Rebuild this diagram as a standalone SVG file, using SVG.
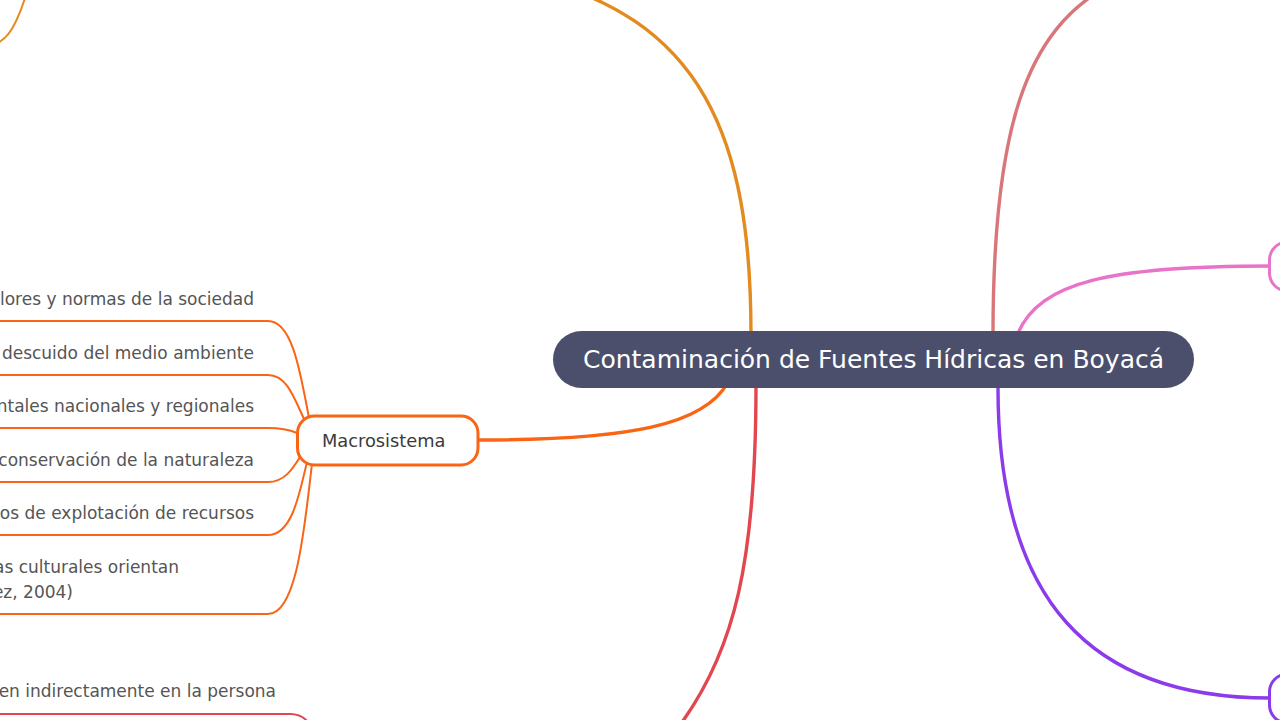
<svg xmlns="http://www.w3.org/2000/svg" width="1280" height="720" viewBox="0 0 1280 720">
<style>
.main{fill:none;stroke-width:3.4;stroke-linecap:round}
.sub{fill:none;stroke-width:2}
.lbl{font-family:"DejaVu Sans","Liberation Sans",sans-serif;font-size:17px;fill:#555555}
</style>
<rect width="1280" height="720" fill="#ffffff"/>
<g id="connectors">
<path class="main" stroke="#e38b1f" d="M751,335 C751,140 705,15 520,-25"/>
<path class="sub" stroke="#e38b1f" d="M-20,47 C5,47 15,30 26,-5"/>
<path class="main" stroke="#e2464f" d="M756,385 C756,560 735,650 680,725"/>
<path class="main" stroke="#f96514" d="M728,382 C705,425 630,440 478,440"/>
<path class="main" stroke="#d9767a" d="M993,335 C993,130 1025,30 1110,-15"/>
<path class="main" stroke="#e874c9" d="M1018,333 C1040,282 1110,266 1270,266"/>
<path class="main" stroke="#8b3bea" d="M998,388 C998,600 1090,698 1270,698"/>
<g stroke="#f96514">
<path class="sub" d="M0,321 H268 C292,321 300,370 309,418"/>
<path class="sub" d="M0,375 H268 C286,375 293,395 304,419"/>
<path class="sub" d="M0,428 H268 C282,428 290,430 297,433"/>
<path class="sub" d="M0,482 H268 C284,482 292,470 300,457"/>
<path class="sub" d="M0,535 H268 C293,535 300,490 307,462"/>
<path class="sub" d="M0,614 H268 C298,614 305,520 312,464"/>
</g>
<path class="sub" stroke="#e2464f" d="M0,714 H290 C298,714 303,716 308,722"/>
</g>
<g id="n-root">
<rect x="553" y="331" width="641" height="57" rx="28.5" fill="#4b4f6b"/>
<text x="873.5" y="368" text-anchor="middle" font-family="DejaVu Sans, Liberation Sans, sans-serif" font-size="25" fill="#ffffff">Contaminación de Fuentes Hídricas en Boyacá</text>
</g>
<g id="n-macro">
<rect x="297.5" y="416" width="180.5" height="49" rx="17" fill="#ffffff" stroke="#f96514" stroke-width="3"/>
<text x="322" y="447" font-family="DejaVu Sans, Liberation Sans, sans-serif" font-size="17.8" fill="#3b3b3b">Macrosistema</text>
</g>
<g id="n-c1"><text class="lbl" x="254" y="305" text-anchor="end">lores y normas de la sociedad</text></g>
<g id="n-c2"><text class="lbl" x="254" y="359" text-anchor="end">descuido del medio ambiente</text></g>
<g id="n-c3"><text class="lbl" x="254" y="412" text-anchor="end">ntales nacionales y regionales</text></g>
<g id="n-c4"><text class="lbl" x="254" y="466" text-anchor="end">conservación de la naturaleza</text></g>
<g id="n-c5"><text class="lbl" x="254" y="519" text-anchor="end">os de explotación de recursos</text></g>
<g id="n-c6"><text class="lbl" x="179" y="573" text-anchor="end">as culturales orientan</text><text class="lbl" x="73" y="598" text-anchor="end">ez, 2004)</text></g>
<g id="n-c7"><text class="lbl" x="276" y="697" text-anchor="end">en indirectamente en la persona</text></g>
<g id="n-pink"><rect x="1269.5" y="242" width="200" height="49" rx="18" fill="#ffffff" stroke="#e874c9" stroke-width="3"/></g>
<g id="n-purple"><rect x="1269.5" y="674" width="200" height="49" rx="18" fill="#ffffff" stroke="#8b3bea" stroke-width="3"/></g>
</svg>
